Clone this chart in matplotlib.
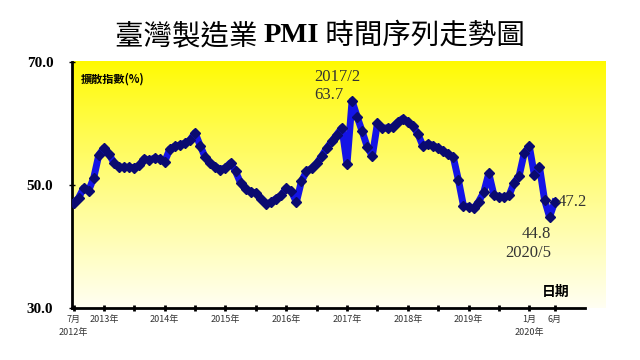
import numpy as np
import matplotlib.pyplot as plt

plt.rcParams['font.family'] = ['Noto Sans CJK TC', 'DejaVu Sans']

# monthly PMI, 2012/7 .. 2020/6
pmi = [47.0, 47.9, 49.5, 49.1, 51.2, 54.9, 56.0, 55.0, 53.6, 52.9, 52.9, 52.9,
       52.8, 53.2, 54.3, 54.0, 54.4, 54.2, 53.8, 55.8, 56.3, 56.5, 56.8, 57.3,
       58.5, 56.4, 54.5, 53.6, 53.0, 52.5, 52.8, 53.6, 52.2, 50.3, 49.3, 48.9,
       48.7, 47.8, 46.9, 47.2, 47.8, 48.3, 49.5, 49.0, 47.2, 50.6, 52.2, 52.7,
       53.5, 54.7, 56.0, 57.1, 58.2, 59.3, 53.4, 63.7, 61.1, 58.7, 56.2, 54.7,
       60.0, 59.2, 59.3, 59.4, 60.2, 60.8, 60.3, 59.6, 58.3, 56.3, 56.7, 56.4,
       56.0, 55.5, 55.0, 54.5, 50.8, 46.6, 46.5, 46.2, 47.3, 48.8, 51.9, 48.4,
       48.1, 48.0, 48.3, 50.4, 51.5, 55.2, 56.3, 51.6, 53.0, 47.6, 44.8, 47.2]
months = np.arange(len(pmi))

tick_pos = list(range(0, 91, 6)) + [95]
tick_labels = ['7月\n2012年', '2013年', '', '2014年', '', '2015年', '', '2016年', '',
               '2017年', '', '2018年', '', '2019年', '', '1月\n2020年', '6月']

fig = plt.figure(figsize=(6.4, 3.6), dpi=100)
ax = fig.add_axes([0.1125, 0.1444, 0.8016, 0.6836])

# yellow -> white background gradient
t = np.linspace(0, 1, 256) ** 0.9
grad = np.zeros((256, 1, 3))
grad[:, 0, 0] = 1.0
grad[:, 0, 1] = 1.0 - 0.02 * (1 - t)
grad[:, 0, 2] = 0.95 * t
ax.imshow(grad, aspect='auto', extent=[0, 1.04, 0, 1], transform=ax.transAxes,
          clip_on=False, zorder=0)

ax.plot(months, pmi, color='#1414e6', lw=5, marker='D', ms=5,
        mfc='#0a0a70', mec='#0a0a70', zorder=3)

ax.set_xlim(-0.3, 101)
ax.set_ylim(30, 70)
ax.set_yticks([30, 50, 70])
ax.set_yticklabels(['30.0', '50.0', '70.0'], family='Liberation Serif',
                   fontweight='bold', fontsize=11)
ax.set_xticks(tick_pos)
ax.set_xticklabels(tick_labels, fontsize=6.5, color='#333333', linespacing=1.6)

for s in ['top', 'right']:
    ax.spines[s].set_visible(False)
for s in ['left', 'bottom']:
    ax.spines[s].set_linewidth(2)
ax.tick_params(axis='y', direction='inout', length=5, width=1, pad=11)
ax.tick_params(axis='x', direction='inout', length=4, width=2, pad=3)

ax.text(0.018, 0.955, '擴散指數(%)', transform=ax.transAxes, fontsize=8,
        fontweight='bold', va='top', ha='left')
ax.text(0.97, 0.035, '日期', transform=ax.transAxes, fontsize=10,
        fontweight='bold', va='bottom', ha='right')

serif = 'Liberation Serif'
ax.text(47.5, 67.5, '2017/2', family=serif, fontsize=12, color='#333333',
        va='center', ha='left')
ax.text(47.5, 64.6, '63.7', family=serif, fontsize=12, color='#333333',
        va='center', ha='left')
ax.text(95.5, 47.3, '47.2', family=serif, fontsize=12, color='#333333',
        va='center', ha='left')
ax.text(88.5, 42.0, '44.8', family=serif, fontsize=12, color='#333333',
        va='center', ha='left')
ax.text(85.2, 38.9, '2020/5', family=serif, fontsize=12, color='#333333',
        va='center', ha='left')

# title in three pieces so that "PMI" can be bold serif
parts = [('臺灣製造業 ', {}),
         ('PMI', {'family': 'Liberation Serif', 'fontweight': 'bold'}),
         (' 時間序列走勢圖', {})]
texts = [fig.text(0, 0.9, s, fontsize=20.5, va='center', ha='left', **kw)
         for s, kw in parts]
fig.canvas.draw()
r = fig.canvas.get_renderer()
widths = [tx.get_window_extent(r).width / fig.bbox.width for tx in texts]
x = 0.5 - sum(widths) / 2
for tx, w in zip(texts, widths):
    tx.set_x(x)
    x += w

fig.savefig('out.png', dpi=100)
